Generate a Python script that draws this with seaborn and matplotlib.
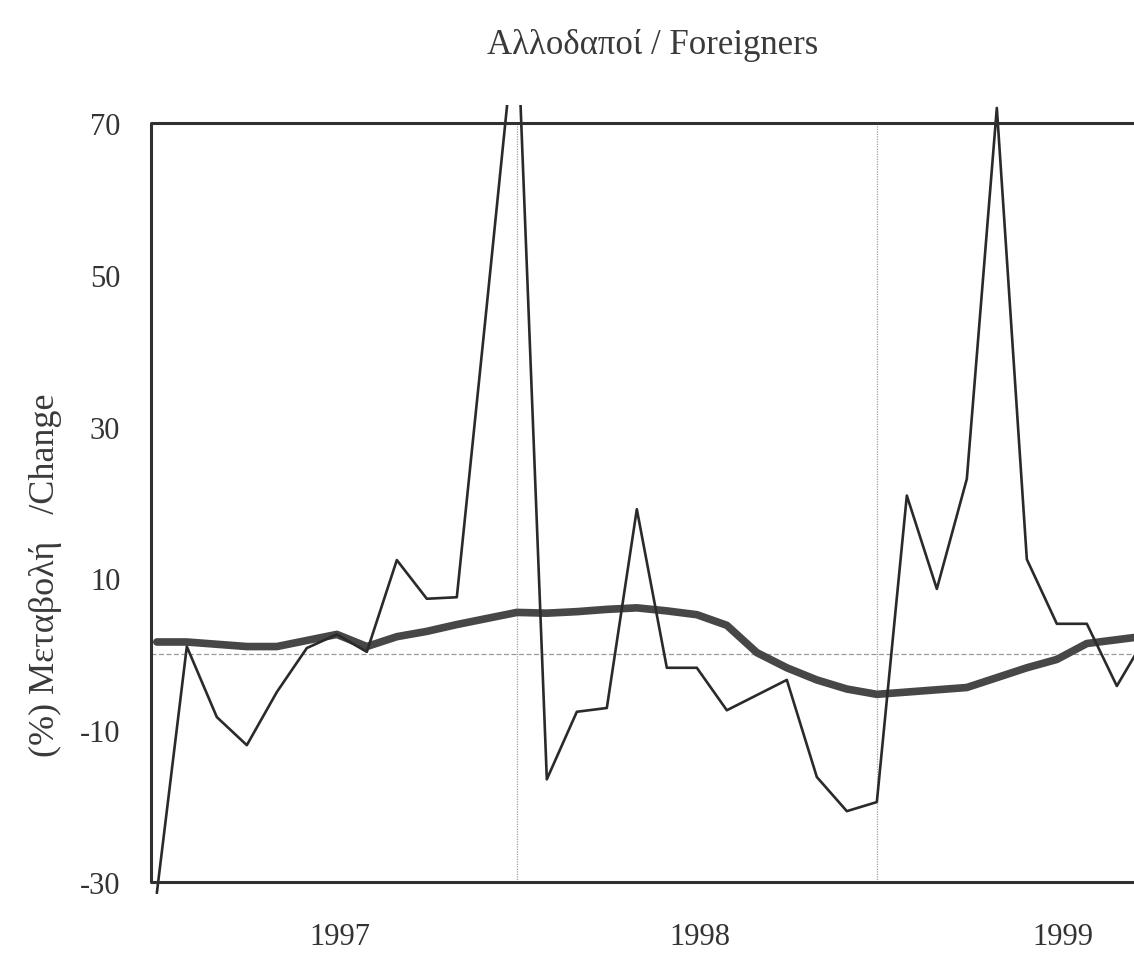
import matplotlib
matplotlib.use("Agg")
from matplotlib import pyplot as plt
import pandas as pd
import seaborn as sns

# monthly % change, Jan 1997 .. Oct 1999 (thin line) and smoothed trend (thick line)
months = list(range(34))
change = [-31.5, 1.0, -8.3, -12.0, -5.0, 0.8, 2.6, 0.3, 12.4, 7.3, 7.5, 46.0,
          85.0, -16.5, -7.6, -7.1, 19.1, -1.8, -1.8, -7.4, -5.4, -3.4, -16.2, -20.7,
          -19.5, 20.9, 8.6, 23.1, 72.0, 12.5, 4.0, 4.0, -4.2, 2.5]
trend = [1.6, 1.6, 1.3, 1.0, 1.0, 1.8, 2.6, 1.0, 2.3, 3.0, 3.9, 4.7,
         5.5, 5.4, 5.6, 5.9, 6.1, 5.7, 5.2, 3.8, 0.2, -1.8, -3.4, -4.6,
         -5.3, -5.0, -4.7, -4.4, -3.1, -1.8, -0.7, 1.4, 1.9, 2.4]
years = ['1997', '1998', '1999']
y_ticks = [70, 50, 30, 10, -10, -30]

df = pd.DataFrame({'month': months, 'change': change, 'trend': trend})

sns.set_style("white")
plt.rcParams['font.family'] = ['Liberation Serif', 'DejaVu Serif']

fig = plt.figure(figsize=(11.34, 9.54), dpi=100)
ax = fig.add_axes([0.133, 0.062, 0.918, 0.827])

# faint guide lines: zero line and year boundaries (inside the frame only)
ax.axhline(0, color='#9a9a9a', lw=0.9, ls=(0, (4, 2)), zorder=1)
ax.vlines([12, 24], -30, 70, color='#a0a0a0', lw=0.9, ls=(0, (1, 1)), zorder=1)

sns.lineplot(data=df, x='month', y='trend', ax=ax, color='#474747', lw=5.5, zorder=3)
sns.lineplot(data=df, x='month', y='change', ax=ax, color='#2a2a2a', lw=1.9, zorder=4)

# frame: top/bottom lines at 70 and -30, left spine
for v in [70, -30]:
    ax.axhline(v, color='#303030', lw=2.2, zorder=5)
for s in ax.spines.values():
    s.set_visible(False)
ax.plot([-0.2, -0.2], [-30, 70], color='#303030', lw=2.2, zorder=5, clip_on=False)

ax.set_xlim(-0.2, 34.5)
ax.set_ylim(-31.6, 72.4)
ax.set_yticks(y_ticks)
ax.set_yticklabels([str(t) for t in y_ticks])
ax.set_xticks([6.1, 18.1, 30.2])
ax.set_xticklabels(years)
ax.tick_params(axis='y', length=0, pad=22, labelsize=22, labelcolor='#333333')
ax.tick_params(axis='x', length=0, pad=20, labelsize=22, labelcolor='#333333')
ax.set_xlabel('')
ax.set_ylabel('')
ax.grid(False)

fig.text(45 / 1134, 1 - 575 / 954, '(%) Μεταβολή   /Change', rotation=90,
         ha='center', va='center', fontsize=26, color='#3a3a3a')
fig.text(653 / 1134, 1 - 46 / 954, 'Αλλοδαποί / Foreigners',
         ha='center', va='center', fontsize=25, color='#3a3a3a')

fig.savefig('out.png', dpi=100)
